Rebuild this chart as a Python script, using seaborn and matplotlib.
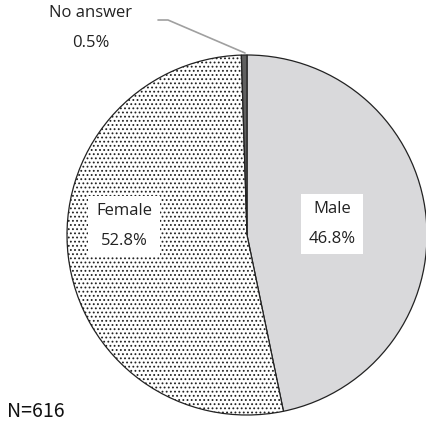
import seaborn as sns
import matplotlib.pyplot as plt
import numpy as np

# survey data
labels = ['Male', 'Female', 'No answer']
shares = [46.8, 52.8, 0.5]
colors = ['#d9d9db', '#ffffff', '#606060']
hatches = ['', '....', '']
n_total = 616

sns.set_theme(style='white')
plt.rcParams['font.family'] = ['Open Sans', 'DejaVu Sans']
plt.rcParams['hatch.color'] = '#8a8a8a'
plt.rcParams['hatch.linewidth'] = 0.8

fig = plt.figure(figsize=(4.27, 4.34), dpi=100)
ax = fig.add_axes([0, 0, 1, 1])

cx, cy, r = 247, 199, 180
wedges, _ = ax.pie(shares, colors=colors, startangle=90, counterclock=False,
                   center=(cx, cy), radius=r, frame=True,
                   wedgeprops={'edgecolor': '#222222', 'linewidth': 0.9})
for w, h in zip(wedges, hatches):
    w.set_hatch(h)

ax.set_xlim(0, 427)
ax.set_ylim(0, 434)
ax.set_aspect('equal')
ax.axis('off')

box = dict(boxstyle='square,pad=0.45', facecolor='white', edgecolor='none')
ax.text(332, 434 - 224, 'Male\n46.8%', ha='center', va='center', fontsize=12,
        linespacing=2.1, color='#222222', bbox=box)
ax.text(124, 434 - 226, 'Female\n52.8%', ha='center', va='center', fontsize=12,
        linespacing=2.1, color='#222222', bbox=box)

# leader line for the tiny slice
ax.plot([158, 168, 245], [434 - 20, 434 - 20, 434 - 53], color='#a0a0a0', lw=1.2)
ax.text(91, 434 - 28, 'No answer\n0.5%', ha='center', va='center', fontsize=12,
        linespacing=2.1, color='#222222')

ax.text(7, 434 - 412, f'N={n_total}', ha='left', va='center', fontsize=14,
        family=['Noto Sans CJK JP', 'DejaVu Sans'], color='#111111')

fig.savefig('out.png', dpi=100)
